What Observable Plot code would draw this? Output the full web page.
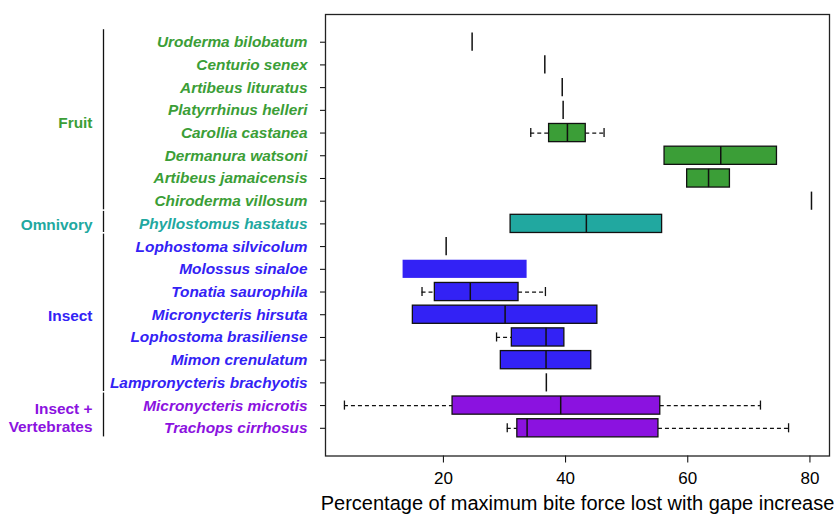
<!DOCTYPE html>
<html><head><meta charset="utf-8">
<script src="https://cdn.jsdelivr.net/npm/d3@7"></script>
<script src="https://cdn.jsdelivr.net/npm/@observablehq/plot@0.6"></script>
<style>body{margin:0;background:#fff} #chart svg{display:block}</style>
</head><body><div id="chart"></div>
<script>
const species = ["Uroderma bilobatum","Centurio senex","Artibeus lituratus","Platyrrhinus helleri","Carollia castanea","Dermanura watsoni","Artibeus jamaicensis","Chiroderma villosum","Phyllostomus hastatus","Lophostoma silvicolum","Molossus sinaloe","Tonatia saurophila","Micronycteris hirsuta","Lophostoma brasiliense","Mimon crenulatum","Lampronycteris brachyotis","Micronycteris microtis","Trachops cirrhosus"];
const diet = ["Fruit","Fruit","Fruit","Fruit","Fruit","Fruit","Fruit","Fruit","Omnivory","Insect","Insect","Insect","Insect","Insect","Insect","Insect","Insect + Vertebrates","Insect + Vertebrates"];
const whiskerLow  = [24.7, 36.6, 39.45, 39.6, 34.3, 56.2, 59.9, 80.25, 31.0, 20.45, 13.4, 16.5, 15.0, 28.7, 29.4, 36.85, 3.8, 30.45];
const q1          = [24.7, 36.6, 39.45, 39.6, 37.3, 56.2, 59.9, 80.25, 31.0, 20.45, 13.4, 18.6, 15.0, 31.2, 29.4, 36.85, 21.5, 32.1];
const median      = [24.7, 36.6, 39.45, 39.6, 40.3, 65.4, 63.4, 80.25, 43.4, 20.45, 13.4, 24.4, 30.1, 36.8, 36.8, 36.85, 39.2, 33.7];
const q3          = [24.7, 36.6, 39.45, 39.6, 43.3, 74.6, 66.9, 80.25, 55.8, 20.45, 33.7, 32.3, 45.2, 39.8, 44.2, 36.85, 55.5, 55.2];
const whiskerHigh = [24.7, 36.6, 39.45, 39.6, 46.3, 74.6, 66.9, 80.25, 55.8, 20.45, 33.7, 36.7, 45.2, 39.8, 44.2, 36.85, 71.9, 76.5];
const dietGroups = ["Fruit","Omnivory","Insect","Insect + Vertebrates"];
const dietLabels = ["Fruit","Omnivory","Insect","Insect +\nVertebrates"];
const dietColors = ["#3b9e37","#21a8a0","#3322f5","#8b12e0"];
const xTicks = [20,40,60,80];
const xLabel = "Percentage of maximum bite force lost with gape increase";
const unoutlined = ["Molossus sinaloe"];

const rows = species.map((s,i)=>({species:s, row:i+1, diet:diet[i], lo:whiskerLow[i], q1:q1[i], med:median[i], q3:q3[i], hi:whiskerHigh[i],
  color: dietColors[dietGroups.indexOf(diet[i])], outline: !unoutlined.includes(s)}));
const groups = dietGroups.map((g,k)=>{const r = rows.filter(d=>d.diet===g).map(d=>d.row);
  return {label: dietLabels[k], color: dietColors[k], first: d3.min(r), last: d3.max(r)};});
const xDomain = [0.7, 83.2];
const hw = 0.4;

const chart = Plot.plot({
  width: 834, height: 515, marginTop: 14, marginBottom: 59.5, marginLeft: 325, marginRight: 5,
  style: {fontFamily: "'Liberation Sans', Arial, sans-serif", background: "white", color: "black"},
  x: {domain: xDomain},
  y: {domain: [-0.22, 19.22], reverse: true},
  color: {type: "identity"},
  marks: [
    Plot.axisX({ticks: xTicks, tickSize: 7, tickPadding: 9, fontSize: 17, label: null}),
    Plot.axisY({ticks: rows.map(d=>d.row), tickSize: 5, tickFormat: () => "", label: null}),
    Plot.ruleY(rows.filter(d=>d.lo<d.q1), {y:"row", x1:"lo", x2:"q1", stroke:"#111", strokeWidth:1.2, strokeDasharray:"4,3"}),
    Plot.ruleY(rows.filter(d=>d.hi>d.q3), {y:"row", x1:"q3", x2:"hi", stroke:"#111", strokeWidth:1.2, strokeDasharray:"4,3"}),
    Plot.ruleX(rows.filter(d=>d.lo<d.q1), {x:"lo", y1:d=>d.row-hw/2, y2:d=>d.row+hw/2, stroke:"#111", strokeWidth:1.3}),
    Plot.ruleX(rows.filter(d=>d.hi>d.q3), {x:"hi", y1:d=>d.row-hw/2, y2:d=>d.row+hw/2, stroke:"#111", strokeWidth:1.3}),
    Plot.rect(rows.filter(d=>d.q3>d.q1 && d.outline), {x1:"q1", x2:"q3", y1:d=>d.row-hw, y2:d=>d.row+hw, fill:"color", stroke:"#111", strokeWidth:1.3}),
    Plot.rect(rows.filter(d=>d.q3>d.q1 && !d.outline), {x1:"q1", x2:"q3", y1:d=>d.row-hw, y2:d=>d.row+hw, fill:"color"}),
    Plot.ruleX(rows.filter(d=>d.outline), {x:"med", y1:d=>d.row-hw, y2:d=>d.row+hw, stroke:"#111", strokeWidth:1.5}),
    Plot.frame({stroke:"#222", strokeWidth:1.3}),
    Plot.text(rows, {y:"row", text:"species", frameAnchor:"left", dx:-18, textAnchor:"end", fill:"color",
      fontWeight:"bold", fontStyle:"italic", fontSize:15.4}),
    Plot.text(groups, {y:d=>(d.first+d.last)/2, text:"label", frameAnchor:"left", dx:-233, textAnchor:"end",
      fill:"color", fontWeight:"bold", fontSize:15.4, lineHeight:1.2}),
    Plot.ruleX(groups, {x:()=>xDomain[0], y1:d=>d.first-0.55, y2:d=>d.last+0.38, dx:-222, stroke:"#111", strokeWidth:1.3}),
    Plot.text([xLabel], {text:d=>d, frameAnchor:"bottom", dy:47.5, lineAnchor:"middle", fontSize:20, fill:"black"})
  ]
});
document.getElementById("chart").appendChild(chart);
</script>
</body></html>
